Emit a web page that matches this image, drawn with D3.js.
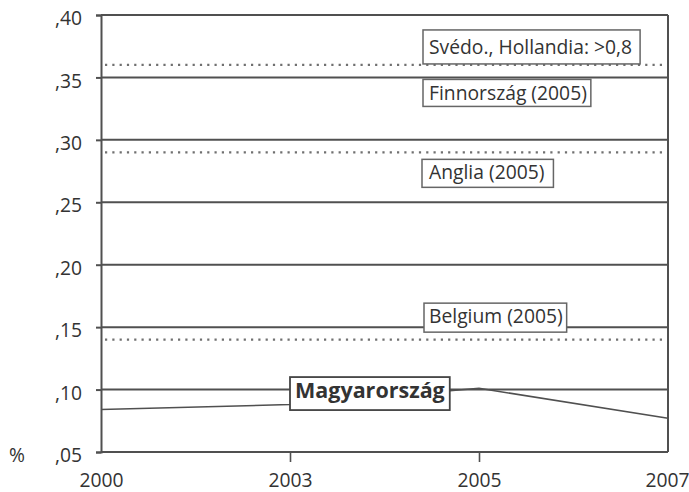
<!DOCTYPE html>
<html>
<head>
<meta charset="utf-8">
<script src="https://cdn.jsdelivr.net/npm/d3@7"></script>
<style>
  html, body { margin: 0; padding: 0; background: #fff; }
  svg { display: block; font-family: "Open Sans", "DejaVu Sans", sans-serif; }
</style>
</head>
<body>
<svg id="chart" width="689" height="492"></svg>
<script>
// Hungarian share (%) over the years, with reference levels of other countries
const years = ["2000", "2003", "2005", "2007"];
const magyarValues = [0.084, 0.088, 0.101, 0.077];
const yTicks = [0.05, 0.10, 0.15, 0.20, 0.25, 0.30, 0.35, 0.40];

// dotted reference levels
const refLevels = [0.36, 0.29, 0.14];

// boxed annotations and the level each one is tied to
const noteTexts = ["Svédo., Hollandia: >0,8", "Finnország (2005)", "Anglia (2005)", "Belgium (2005)"];
const noteValues = [0.36, 0.35, 0.29, 0.15];
const seriesLabel = "Magyarország";
const unitLabel = "%";

const svg = d3.select("#chart");
const margin = { left: 101, right: 21, top: 15, bottom: 40 };
const W = 689, H = 492;

const x = d3.scalePoint().domain(years).range([margin.left, W - margin.right]);
const y = d3.scaleLinear().domain([0.05, 0.40]).range([H - margin.bottom, margin.top]);

const lineCol = "#505050";
const textCol = "#333";
const fs = 19.3;
const fmt = v => "," + d3.format(".2f")(v).split(".")[1];

// horizontal grid lines
svg.append("g").selectAll("line").data(yTicks).join("line")
  .attr("x1", x.range()[0]).attr("x2", x.range()[1])
  .attr("y1", d => y(d)).attr("y2", d => y(d))
  .attr("stroke", lineCol).attr("stroke-width", 2);

// dotted reference lines
svg.append("g").selectAll("line").data(refLevels).join("line")
  .attr("x1", x.range()[0] + 4).attr("x2", x.range()[1])
  .attr("y1", d => y(d)).attr("y2", d => y(d))
  .attr("stroke", "#707070").attr("stroke-width", 2.2)
  .attr("stroke-dasharray", "2.2,5.1");

// right frame
svg.append("line")
  .attr("x1", x.range()[1]).attr("x2", x.range()[1])
  .attr("y1", y.range()[0]).attr("y2", y.range()[1])
  .attr("stroke", lineCol).attr("stroke-width", 2);

// y axis
const yAxis = svg.append("g")
  .attr("transform", `translate(${margin.left},0)`)
  .call(d3.axisLeft(y).tickValues(yTicks).tickFormat(fmt).tickSize(5).tickPadding(14));
yAxis.select(".domain").attr("stroke", lineCol).attr("stroke-width", 2);
yAxis.selectAll(".tick line").attr("stroke", lineCol).attr("stroke-width", 2);
yAxis.selectAll(".tick text")
  .attr("fill", textCol).attr("font-size", fs).attr("font-family", "Open Sans")
  .attr("dy", "0.5em");

// x axis
const xAxis = svg.append("g")
  .attr("transform", `translate(0,${y.range()[0]})`)
  .call(d3.axisBottom(x).tickSize(10).tickPadding(12));
xAxis.select(".domain").remove();
xAxis.selectAll(".tick line")
  .attr("stroke", lineCol).attr("stroke-width", 1.6)
  .attr("display", (d, i) => (i === 0 || i === years.length - 1) ? "none" : null);
xAxis.selectAll(".tick text")
  .attr("fill", textCol).attr("font-size", fs).attr("font-family", "Open Sans")
  .attr("y", 35).attr("dy", 0);
// keep the last year label inside the page edge
xAxis.selectAll(".tick text").filter((d, i) => i === years.length - 1)
  .attr("text-anchor", "end").attr("x", W - x(years[years.length - 1]));

// unit label
svg.append("text")
  .attr("x", 9).attr("y", y(0.05) + 10)
  .attr("font-size", fs).attr("fill", textCol)
  .text(unitLabel);

// Hungarian series
svg.append("path")
  .datum(years.map((yr, i) => [yr, magyarValues[i]]))
  .attr("fill", "none").attr("stroke", lineCol).attr("stroke-width", 1.6)
  .attr("d", d3.line().x(d => x(d[0])).y(d => y(d[1])));

// text with a white box drawn behind it
function boxedLabel(txt, tx, ty, opts) {
  const g = svg.append("g");
  const t = g.append("text")
    .attr("x", tx).attr("y", ty)
    .attr("font-size", opts.size).attr("font-weight", opts.weight || 400)
    .attr("fill", textCol).text(txt);
  const bb = t.node().getBBox();
  g.insert("rect", "text")
    .attr("x", tx - opts.padL).attr("y", ty - opts.above)
    .attr("width", bb.width + opts.padL + opts.padR)
    .attr("height", opts.above + opts.below)
    .attr("fill", "#fff").attr("stroke", opts.stroke || "#666")
    .attr("stroke-width", opts.sw || 1.5);
}

const noteX = x("2003") + 139;
// Svédo: resting on the dotted line
boxedLabel(noteTexts[0], noteX, y(noteValues[0]) - 11, { size: fs, padL: 6, padR: 8, above: 24, below: 10 });
// Finnország: just below the .35 grid line
boxedLabel(noteTexts[1], noteX, y(noteValues[1]) + 23, { size: fs, padL: 6, padR: 4, above: 21, below: 6 });
// Anglia: below the dotted .29 line
boxedLabel(noteTexts[2], noteX, y(noteValues[2]) + 27, { size: fs, padL: 7, padR: 9, above: 20, below: 8 });
// Belgium: straddling the .15 grid line
boxedLabel(noteTexts[3], noteX, y(noteValues[3]) - 4, { size: fs, padL: 5, padR: 4, above: 20, below: 9 });

// series label box
boxedLabel(seriesLabel, x("2003") + 5, y(0.10) + 8.5, { size: 21.5, weight: 700, padL: 5, padR: 5, above: 21, below: 12, stroke: "#444", sw: 1.8 });
</script>
</body>
</html>
